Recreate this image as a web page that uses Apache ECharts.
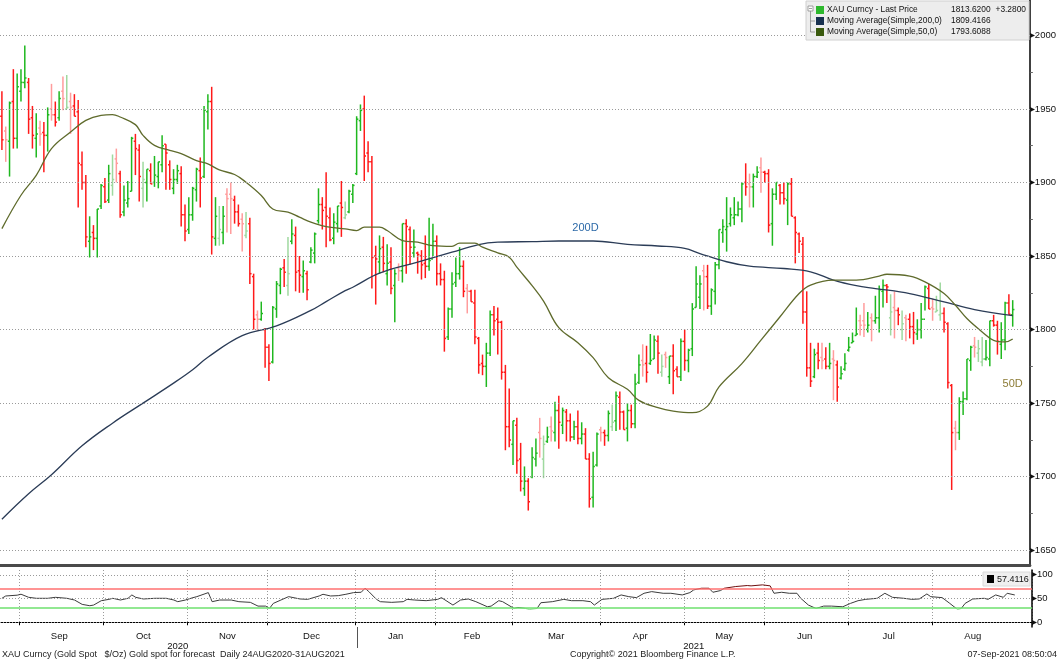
<!DOCTYPE html>
<html>
<head>
<meta charset="utf-8">
<title>XAU Curncy - Gold Spot</title>
<script src="https://cdn.jsdelivr.net/npm/echarts@6/dist/echarts.min.js"></script>
<style>
  html, body { margin: 0; padding: 0; background: #fff; }
  #echart-root { width: 1059px; height: 661px; }
</style>
</head>
<body>
<div id="echart-root"></div>
<script>
// 刻度标签
const monthNames = ['Jan', 'Feb', 'Mar', 'Apr', 'May', 'Jun', 'Jul', 'Aug', 'Sep', 'Oct', 'Nov', 'Dec'];
const priceTicks = [1650, 1700, 1750, 1800, 1850, 1900, 1950, 2000];
const priceMinorTicks = [1650, 1675, 1700, 1725, 1750, 1775, 1800, 1825, 1850, 1875, 1900, 1925, 1950, 1975, 2000];
const rsiTicks = [0, 50, 100];

// 日线 OHLC (24AUG2020-31AUG2021)
const opens = [
  1945,1935,1928,1955,1930,1962,1968,1968,1944,1930,
  1937,1934,1932,1950,1946,1944,1962,1950,1955,1952,
  1948,1912,1900,1860,1866,1862,1884,1897,1888,1898,
  1916,1906,1880,1886,1894,1928,1922,1896,1900,1908,
  1900,1904,1912,1926,1912,1896,1902,1906,1878,1868,
  1878,1895,1908,1904,1948,1955,1862,1862,1866,1892,
  1892,1888,1880,1875,1864,1872,1836,1810,1807,1800,
  1788,1778,1814,1830,1842,1830,1860,1864,1840,1836,
  1838,1846,1852,1874,1885,1883,1876,1862,1872,1886,
  1876,1880,1892,1906,1942,1950,1920,1914,1850,1846,
  1856,1838,1846,1830,1842,1840,1872,1868,1852,1852,
  1850,1845,1843,1848,1860,1838,1834,1795,1814,1832,
  1838,1843,1828,1826,1818,1794,1777,1775,1784,1810,
  1807,1805,1771,1734,1722,1735,1712,1692,1697,1700,
  1712,1730,1712,1724,1734,1730,1745,1735,1744,1738,
  1727,1734,1726,1729,1712,1686,1708,1732,1730,1728,
  1734,1738,1754,1744,1733,1745,1736,1764,1779,1777,
  1777,1780,1792,1771,1783,1768,1782,1773,1768,1792,
  1779,1787,1815,1822,1840,1836,1816,1826,1844,1866,
  1868,1872,1876,1878,1882,1900,1899,1897,1904,1910,
  1907,1906,1872,1892,1898,1893,1888,1899,1876,1865,
  1858,1812,1774,1768,1784,1781,1780,1775,1780,1776,
  1767,1773,1786,1791,1796,1806,1806,1800,1808,1806,
  1808,1826,1830,1808,1815,1813,1800,1808,1807,1802,
  1797,1800,1807,1828,1815,1812,1810,1811,1804,1762,
  1733,1730,1751,1753,1779,1789,1784,1778,1780,1780,
  1806,1803,1790,1793,1818,1810
];
const highs = [
  1962,1938,1955,1977,1974,1977,1993,1971,1952,1947,
  1942,1941,1951,1967,1955,1962,1972,1973,1961,1960,
  1956,1921,1905,1877,1871,1882,1899,1903,1912,1919,
  1923,1908,1898,1901,1931,1933,1926,1914,1909,1913,
  1918,1914,1932,1926,1915,1909,1912,1911,1885,1890,
  1897,1910,1917,1952,1960,1965,1890,1884,1884,1896,
  1900,1891,1885,1879,1880,1876,1838,1813,1819,1801,
  1790,1816,1833,1842,1848,1863,1875,1870,1850,1847,
  1840,1856,1866,1896,1890,1907,1883,1879,1884,1901,
  1887,1895,1899,1945,1953,1959,1928,1918,1857,1864,
  1863,1858,1856,1841,1845,1872,1875,1870,1868,1853,
  1854,1864,1876,1872,1864,1845,1840,1815,1839,1849,
  1856,1847,1831,1827,1827,1795,1783,1791,1813,1816,
  1815,1806,1776,1760,1738,1740,1723,1707,1699,1720,
  1726,1740,1728,1734,1741,1751,1755,1747,1746,1743,
  1738,1745,1737,1733,1716,1717,1730,1734,1732,1745,
  1749,1758,1758,1745,1750,1749,1770,1783,1790,1789,
  1797,1796,1796,1783,1785,1782,1790,1775,1794,1800,
  1787,1818,1843,1837,1844,1844,1828,1846,1868,1875,
  1890,1883,1890,1887,1900,1913,1906,1906,1911,1917,
  1908,1909,1896,1900,1899,1900,1900,1903,1877,1866,
  1863,1826,1791,1787,1791,1791,1788,1791,1786,1779,
  1775,1784,1795,1798,1815,1810,1818,1812,1811,1823,
  1830,1834,1831,1824,1826,1815,1813,1810,1811,1812,
  1807,1818,1830,1831,1821,1823,1832,1815,1805,1763,
  1738,1754,1758,1780,1789,1795,1793,1795,1793,1806,
  1810,1806,1805,1819,1824,1820
];
const lows = [
  1922,1914,1904,1923,1923,1955,1964,1933,1923,1917,
  1925,1907,1921,1942,1938,1942,1949,1950,1933,1945,
  1883,1895,1856,1849,1854,1849,1882,1886,1886,1891,
  1900,1876,1877,1883,1894,1905,1887,1883,1887,1899,
  1897,1896,1907,1895,1895,1892,1899,1870,1860,1865,
  1874,1887,1883,1903,1936,1851,1857,1857,1858,1866,
  1865,1872,1870,1853,1862,1831,1800,1799,1806,1774,
  1765,1777,1808,1824,1829,1823,1858,1826,1825,1825,
  1820,1845,1845,1872,1868,1856,1860,1858,1866,1863,
  1875,1879,1886,1905,1935,1901,1907,1828,1817,1838,
  1839,1830,1824,1805,1833,1832,1838,1844,1849,1838,
  1834,1835,1840,1850,1830,1830,1785,1793,1808,1829,
  1834,1822,1811,1819,1790,1770,1769,1761,1782,1796,
  1783,1766,1718,1720,1708,1702,1690,1687,1677,1699,
  1707,1713,1699,1723,1724,1724,1719,1729,1724,1724,
  1725,1722,1722,1712,1679,1679,1707,1724,1721,1724,
  1731,1731,1732,1732,1724,1733,1733,1763,1768,1764,
  1776,1780,1770,1768,1774,1763,1756,1768,1765,1772,
  1771,1782,1815,1814,1813,1814,1810,1817,1841,1859,
  1853,1870,1871,1877,1873,1891,1883,1883,1903,1893,
  1900,1866,1857,1888,1885,1885,1871,1877,1845,1852,
  1804,1768,1761,1767,1773,1773,1773,1773,1752,1751,
  1766,1772,1785,1791,1796,1796,1795,1798,1792,1804,
  1798,1815,1818,1796,1794,1803,1793,1792,1794,1790,
  1793,1794,1813,1814,1806,1812,1806,1798,1760,1691,
  1718,1725,1742,1752,1772,1781,1778,1775,1779,1775,
  1802,1783,1780,1786,1810,1802
];
const closes = [
  1929,1929,1954,1930,1965,1968,1971,1943,1932,1933,
  1933,1932,1946,1946,1941,1957,1957,1951,1951,1945,
  1913,1900,1863,1863,1862,1882,1898,1887,1906,1902,
  1913,1878,1888,1889,1930,1923,1904,1902,1909,1899,
  1905,1914,1925,1920,1902,1902,1908,1878,1867,1878,
  1896,1909,1903,1949,1955,1863,1877,1868,1877,1889,
  1889,1880,1872,1872,1867,1838,1807,1807,1811,1788,
  1777,1815,1831,1841,1839,1838,1865,1839,1837,1840,
  1827,1854,1865,1885,1881,1877,1861,1873,1884,1883,
  1878,1894,1898,1943,1949,1918,1914,1849,1848,1855,
  1845,1845,1828,1838,1840,1872,1870,1856,1856,1851,
  1844,1843,1847,1860,1838,1834,1794,1814,1831,1838,
  1843,1826,1826,1819,1795,1776,1775,1784,1810,1806,
  1805,1771,1734,1725,1738,1711,1697,1697,1683,1713,
  1716,1726,1722,1727,1731,1745,1737,1745,1738,1727,
  1734,1726,1729,1712,1685,1707,1729,1730,1728,1743,
  1737,1755,1744,1732,1745,1736,1763,1776,1776,1771,
  1779,1793,1784,1775,1781,1782,1772,1768,1792,1779,
  1786,1814,1831,1831,1836,1816,1827,1844,1868,1870,
  1870,1878,1878,1882,1899,1897,1897,1904,1907,1907,
  1906,1871,1892,1900,1893,1889,1899,1877,1866,1860,
  1812,1774,1765,1783,1779,1779,1775,1777,1779,1761,
  1770,1777,1788,1792,1797,1803,1803,1803,1806,1808,
  1827,1830,1829,1812,1813,1810,1804,1807,1802,1798,
  1800,1807,1829,1814,1814,1813,1811,1805,1764,1730,
  1730,1751,1753,1780,1788,1788,1787,1780,1781,1806,
  1803,1792,1793,1818,1810.34,1813.62
];

// 均线 (从图上读取的采样点: [序号, 数值])
const ma200 = [
  [0,1671.1],[7,1688.4],[13,1701.3],[21,1721],[29,1736.4],[37,1750],[45,1763.6],[50,1772.7],
  [54,1781.2],[63,1795.9],[72,1802.5],[81,1813],[85,1819],[90,1826.5],[92,1828.8],[99,1838.3],
  [109,1845.8],[118,1852.6],[125,1857.8],[130,1859.4],[139,1859.8],[146,1860.2],[155,1860.2],
  [164,1857.9],[172,1856.8],[179,1855.2],[183,1851.7],[190,1846.1],[196,1843.1],[205,1841.5],
  [212,1839.3],[218,1833.6],[224,1829.8],[229,1827.9],[238,1824.5],[247,1818.8],[255,1813.6],
  [265,1809.4166]
];
const ma50 = [
  [0,1868.6],[5,1891.3],[9,1904.8],[13,1923],[18,1934.3],[22,1942.2],[26,1945.6],[29,1946.1],
  [31,1944.5],[35,1939.3],[37,1932],[40,1925.2],[44,1921.8],[47,1919.6],[51,1914.9],[54,1912.6],
  [57,1908.5],[61,1905.4],[64,1900.1],[68,1891.1],[71,1882],[75,1879.8],[78,1876.4],[81,1873],
  [85,1870],[90,1868.4],[93,1867.3],[95,1869.6],[99,1869.6],[101,1867.3],[105,1860.5],[109,1859.4],
  [113,1857.1],[118,1856.6],[120,1858.7],[124,1858.7],[126,1856],[130,1852.1],[133,1849.2],
  [135,1842.4],[139,1829.9],[142,1819.4],[146,1801.3],[151,1791.1],[155,1780.9],[159,1767.3],
  [164,1759.4],[167,1751.9],[172,1746.9],[176,1744.6],[181,1743.5],[185,1748],[188,1761.1],
  [194,1776.9],[199,1792.8],[204,1808.7],[209,1824.5],[212,1830.2],[218,1833.6],[224,1833.6],
  [230,1836.3],[232,1837.6],[238,1836.3],[242,1832.4],[247,1824.5],[250,1816.5],[253,1807.5],
  [257,1798.4],[260,1792.7],[263,1791.6],[265,1793.6088]
];

// RSI(14)
const rsi14 = [
  [0,50.4],[1,55.3],[4,57],[5,59],[7,52.5],[9,50.4],[12,50.4],[14,52.5],[17,50.4],[19,46.8],
  [21,37.6],[23,34.8],[24,36.2],[26,45.4],[28,48.2],[29,50.4],[31,46.8],[33,50.4],[34,57.5],
  [35,52.5],[37,49],[40,50.4],[43,50.4],[45,46.8],[46,43.3],[48,46.8],[50,51.8],[51,53.9],
  [54,62.4],[55,43.3],[57,46.8],[60,46.8],[62,43.3],[65,41.9],[67,34],[69,34],[70,29],[71,39.7],
  [73,46.8],[75,53.9],[78,49],[80,48.2],[83,55.3],[84,58.9],[86,55.3],[88,56],[90,58.9],
  [92,62.4],[94,63.1],[95,71.6],[96,64.5],[98,48.2],[99,43.3],[102,41.9],[105,43.3],[106,48.2],
  [108,46.8],[111,45.4],[114,48.2],[115,51.8],[118,36.2],[120,46.8],[122,49],[124,43.3],
  [127,32.6],[128,34],[130,45.4],[131,43.3],[134,29],[135,31.2],[137,29],[138,27],[140,29],
  [141,41.1],[144,43.3],[147,48.2],[149,45.4],[152,45.4],[154,43.3],[155,36.2],[157,48.2],
  [160,50.4],[162,57.5],[164,53.9],[166,51.8],[168,61],[170,64.5],[173,61],[175,61],[178,57.5],
  [180,62.4],[181,68.1],[183,71.6],[185,71.6],[186,63.1],[188,66.7],[189,71.6],[192,75.2],
  [195,77.3],[196,76.6],[199,78.7],[201,76.6],[202,61],[204,63.1],[206,61],[208,61],[209,50.4],
  [211,36.2],[213,29],[215,34],[217,34],[220,32.6],[222,39.7],[224,45.4],[226,48.2],[229,50.4],
  [231,61],[233,52.5],[236,50.4],[238,48.2],[240,49],[242,59.6],[243,53.9],[246,51.8],[248,39.7],
  [250,27],[251,29],[252,39.7],[254,49],[257,50.4],[258,48.2],[260,57.5],[262,52.5],[263,61],
  [265,57.4116]
];

// 交易日 (工作日)
const dates = [];
const day = new Date(Date.UTC(2020, 7, 25));
while (dates.length < closes.length) {
  const wd = day.getUTCDay();
  if (wd !== 0 && wd !== 6) dates.push(day.toISOString().slice(0, 10));
  day.setUTCDate(day.getUTCDate() + 1);
}
const categories = dates.concat(['', '', '', '']); // 右侧留白

const monthStart = new Set();
const monthMid = new Set();
const yearMid = new Set();
let yearStart = -1;
let runStart = 0;
for (let i = 1; i <= dates.length; i++) {
  if (i === dates.length || dates[i].slice(0, 7) !== dates[i - 1].slice(0, 7)) {
    if (i - runStart >= 10) monthMid.add(Math.floor((runStart + i - 1) / 2));
    if (i < dates.length) monthStart.add(i);
    runStart = i;
  }
  if (i < dates.length && dates[i].slice(0, 4) !== dates[i - 1].slice(0, 4)) yearStart = i;
}
yearMid.add(Math.floor((yearStart - 1) / 2));
yearMid.add(Math.floor((yearStart + categories.length - 1) / 2));

function barColor(i) {
  const up = closes[i] >= opens[i];
  const prev = i > 0 ? closes[i - 1] : opens[i];
  const strong = up ? closes[i] >= prev : closes[i] < prev;
  if (up) return strong ? '#1fb81f' : '#9fd99f';
  return strong ? '#ff1a1a' : '#ff9c9c';
}

function renderOhlc(params, api) {
  const i = api.value(0);
  const hi = api.coord([i, api.value(2)]);
  const lo = api.coord([i, api.value(3)]);
  const op = api.coord([i, api.value(1)]);
  const cl = api.coord([i, api.value(4)]);
  const w = api.size([1, 0])[0] * 0.45;
  const style = { stroke: barColor(params.dataIndex), lineWidth: 1.5 };
  return {
    type: 'group',
    children: [
      { type: 'line', shape: { x1: hi[0], y1: hi[1], x2: lo[0], y2: lo[1] }, style },
      { type: 'line', shape: { x1: op[0] - w, y1: op[1], x2: op[0], y2: op[1] }, style },
      { type: 'line', shape: { x1: cl[0], y1: cl[1], x2: cl[0] + w, y2: cl[1] }, style }
    ]
  };
}

const ohlcData = closes.map((c, i) => [i, opens[i], highs[i], lows[i], c]);
const lastClose = closes[closes.length - 1];
const change = lastClose - closes[closes.length - 2];
const fontFamily = 'Liberation Sans';
const legendFont = '8.4px ' + fontFamily;
const dotted = { color: '#9a9a9a', type: [1, 2], width: 1 };

const myChart = echarts.init(document.getElementById('echart-root'));

const legendRows = [
  { y: 10, color: '#2db82d', name: 'XAU Curncy - Last Price', value: lastClose.toFixed(4) },
  { y: 21, color: '#17304f', name: 'Moving Average(Simple,200,0)', value: ma200[ma200.length - 1][1].toFixed(4) },
  { y: 32, color: '#3a5a0e', name: 'Moving Average(Simple,50,0)', value: ma50[ma50.length - 1][1].toFixed(4) }
];

const graphicEls = [
  { type: 'rect', shape: { x: 806, y: 1, width: 223, height: 39 }, style: { fill: '#ededed', stroke: '#d0d0d0' }, z: 100 },
  { type: 'rect', shape: { x: 808, y: 6, width: 5, height: 5 }, style: { fill: '#fff', stroke: '#8a8a8a', lineWidth: 0.8 }, z: 101 },
  { type: 'line', shape: { x1: 809, y1: 8.5, x2: 812, y2: 8.5 }, style: { stroke: '#8a8a8a', lineWidth: 0.8 }, z: 101 },
  { type: 'line', shape: { x1: 810.5, y1: 11, x2: 810.5, y2: 32 }, style: { stroke: '#8a8a8a', lineWidth: 0.8 }, z: 101 },
  { type: 'line', shape: { x1: 810.5, y1: 21, x2: 815, y2: 21 }, style: { stroke: '#8a8a8a', lineWidth: 0.8 }, z: 101 },
  { type: 'line', shape: { x1: 810.5, y1: 32, x2: 815, y2: 32 }, style: { stroke: '#8a8a8a', lineWidth: 0.8 }, z: 101 }
];
legendRows.forEach((r) => {
  graphicEls.push({ type: 'rect', shape: { x: 816, y: r.y - 4, width: 8, height: 8 }, style: { fill: r.color }, z: 101 });
  graphicEls.push({ type: 'text', x: 827, y: r.y, style: { text: r.name, fill: '#111', font: legendFont, verticalAlign: 'middle' }, z: 101 });
  graphicEls.push({ type: 'text', x: 951, y: r.y, style: { text: r.value, fill: '#111', font: legendFont, verticalAlign: 'middle' }, z: 101 });
});
graphicEls.push({ type: 'text', x: 1026, y: 10, style: { text: (change >= 0 ? '+' : '') + change.toFixed(4), fill: '#111', font: legendFont, verticalAlign: 'middle', align: 'right' }, z: 101 });

// RSI 数值框
graphicEls.push({ type: 'rect', shape: { x: 983, y: 572, width: 47, height: 14 }, style: { fill: '#efefef', stroke: '#dadada' }, z: 100 });
graphicEls.push({ type: 'rect', shape: { x: 987, y: 575, width: 7, height: 8 }, style: { fill: '#000' }, z: 101 });
graphicEls.push({ type: 'text', x: 997, y: 579.5, style: { text: rsi14[rsi14.length - 1][1].toFixed(4), fill: '#111', font: '9px ' + fontFamily, verticalAlign: 'middle' }, z: 101 });

// 底部说明
graphicEls.push({ type: 'text', x: 2, y: 655, style: { text: 'XAU Curncy (Gold Spot   $/Oz) Gold spot for forecast  Daily 24AUG2020-31AUG2021', fill: '#222', font: '9px ' + fontFamily, verticalAlign: 'middle' } });
graphicEls.push({ type: 'text', x: 570, y: 655, style: { text: 'Copyright\u00a9 2021 Bloomberg Finance L.P.', fill: '#222', font: '9px ' + fontFamily, verticalAlign: 'middle' } });
graphicEls.push({ type: 'text', x: 1057, y: 655, style: { text: '07-Sep-2021 08:50:04', fill: '#222', font: '9px ' + fontFamily, verticalAlign: 'middle', align: 'right' } });

const option = {
  animation: false,
  textStyle: { fontFamily },
  grid: [
    { left: 0, right: 27, top: 0, bottom: 96 },
    { left: 0, right: 27, top: 570, bottom: 34 }
  ],
  xAxis: [
    {
      type: 'category', gridIndex: 0, data: categories,
      axisLine: { show: true, lineStyle: { color: '#4a4a4a', width: 3 } },
      axisTick: { show: false }, axisLabel: { show: false }, splitLine: { show: false }
    },
    {
      type: 'category', gridIndex: 1, data: categories, position: 'bottom',
      axisLine: { show: true, lineStyle: { color: '#000', width: 1 } },
      axisTick: { show: true, interval: (i) => monthStart.has(i), length: 3, lineStyle: { color: '#000' } },
      axisLabel: {
        interval: (i) => monthMid.has(i),
        formatter: (v) => (v ? monthNames[+v.slice(5, 7) - 1] : ''),
        margin: 4, fontSize: 9.5, color: '#111'
      },
      splitLine: { show: true, interval: (i) => monthStart.has(i), lineStyle: dotted }
    },
    {
      // 年份分隔
      type: 'category', gridIndex: 1, data: categories, position: 'bottom',
      axisLine: { show: false },
      axisTick: { show: true, alignWithLabel: true, interval: (i) => i === yearStart, length: 21, lineStyle: { color: '#555' } },
      axisLabel: {
        interval: (i) => yearMid.has(i),
        formatter: (v) => (v ? v.slice(0, 4) : ''),
        margin: 14, fontSize: 9.5, color: '#111'
      },
      splitLine: { show: false }
    }
  ],
  yAxis: [
    {
      type: 'value', gridIndex: 0, position: 'right', min: 1640, max: 2024,
      axisLine: { show: true, lineStyle: { color: '#000', width: 1.5 } },
      axisTick: { show: true, customValues: priceMinorTicks, length: 3, lineStyle: { color: '#666' } },
      axisLabel: { customValues: priceTicks, formatter: (v) => '\u25b8' + v, margin: 0, fontSize: 9.5, color: '#111' },
      splitLine: { show: false }
    },
    {
      type: 'value', gridIndex: 1, position: 'right', min: -10, max: 110,
      axisLine: { show: true, lineStyle: { color: '#000', width: 1.5 } },
      axisTick: { show: false },
      axisLabel: { customValues: rsiTicks, formatter: (v) => '\u25b8' + v, margin: 0, fontSize: 9.5, color: '#111' },
      splitLine: { show: false }
    }
  ],
  visualMap: [{
    type: 'piecewise', show: false, seriesIndex: 4, dimension: 1,
    pieces: [
      { gt: 70, color: '#6e0d0d' },
      { lt: 30, color: '#86d486' },
      { gte: 30, lte: 70, color: '#3b3b3b' }
    ]
  }],
  series: [
    {
      // 价格网格线
      type: 'line', xAxisIndex: 0, yAxisIndex: 0, data: [], z: 1,
      markLine: {
        silent: true, symbol: ['none', 'none'], label: { show: false }, animation: false,
        lineStyle: dotted,
        data: priceTicks.map((v) => ({ yAxis: v }))
      }
    },
    {
      name: 'XAU Curncy', type: 'custom', xAxisIndex: 0, yAxisIndex: 0,
      renderItem: renderOhlc, data: ohlcData, encode: { x: 0, y: [1, 2, 3, 4] }, clip: true, z: 2
    },
    {
      name: 'MA200', type: 'line', xAxisIndex: 0, yAxisIndex: 0, data: ma200,
      smooth: 0.4, showSymbol: false, z: 3,
      lineStyle: { color: '#2b3c57', width: 1.3 },
      markPoint: {
        symbol: 'circle', symbolSize: 0, silent: true,
        label: { show: true, position: 'inside', formatter: '200D', color: '#2d6aa8', fontSize: 11 },
        data: [{ coord: [153, 1869] }]
      }
    },
    {
      name: 'MA50', type: 'line', xAxisIndex: 0, yAxisIndex: 0, data: ma50,
      smooth: 0.4, showSymbol: false, z: 3,
      lineStyle: { color: '#5f6b2c', width: 1.3 },
      markPoint: {
        symbol: 'circle', symbolSize: 0, silent: true,
        label: { show: true, position: 'inside', formatter: '50D', color: '#8c7b35', fontSize: 11 },
        data: [{ coord: [265, 1763] }]
      }
    },
    {
      name: 'RSI', type: 'line', xAxisIndex: 1, yAxisIndex: 1, data: rsi14,
      showSymbol: false, z: 3, lineStyle: { width: 1 },
      markLine: {
        silent: true, symbol: ['none', 'none'], label: { show: false }, animation: false,
        data: [
          { yAxis: 0, lineStyle: dotted },
          { yAxis: 50, lineStyle: dotted },
          { yAxis: 100, lineStyle: dotted },
          { yAxis: 70, lineStyle: { color: '#ff7070', type: 'solid', width: 1.5 } },
          { yAxis: 30, lineStyle: { color: '#6ee06e', type: 'solid', width: 1.5 } }
        ]
      }
    }
  ],
  graphic: { elements: graphicEls }
};

myChart.setOption(option);
</script>
</body>
</html>
